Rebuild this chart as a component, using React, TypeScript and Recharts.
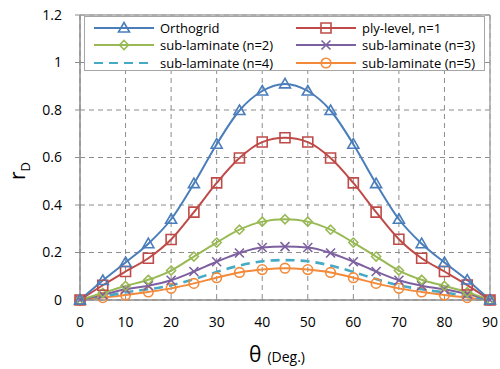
import React from 'react';
import { LineChart, Line, XAxis, YAxis, CartesianGrid, ReferenceLine, Legend } from 'recharts';

const theta = [0, 5, 10, 15, 20, 25, 30, 35, 40, 45, 50, 55, 60, 65, 70, 75, 80, 85, 90];
const orthogrid = [0, 0.082, 0.158, 0.237, 0.34, 0.49, 0.656, 0.798, 0.88, 0.91, 0.88, 0.798, 0.656, 0.49, 0.34, 0.237, 0.158, 0.084, 0];
const plyLevel = [0, 0.062, 0.12, 0.176, 0.255, 0.37, 0.493, 0.598, 0.665, 0.683, 0.665, 0.598, 0.493, 0.37, 0.256, 0.176, 0.12, 0.063, 0];
const sub2 = [0, 0.03, 0.059, 0.085, 0.124, 0.183, 0.242, 0.296, 0.33, 0.34, 0.33, 0.296, 0.242, 0.183, 0.124, 0.085, 0.059, 0.033, 0];
const sub3 = [0, 0.022, 0.045, 0.06, 0.083, 0.12, 0.161, 0.198, 0.221, 0.225, 0.221, 0.198, 0.161, 0.12, 0.083, 0.06, 0.045, 0.025, 0];
const sub4 = [0, 0.015, 0.032, 0.045, 0.062, 0.088, 0.118, 0.145, 0.163, 0.168, 0.163, 0.145, 0.118, 0.088, 0.062, 0.045, 0.032, 0.016, 0];
const sub5 = [0, 0.01, 0.021, 0.034, 0.049, 0.07, 0.094, 0.116, 0.128, 0.134, 0.128, 0.116, 0.094, 0.07, 0.049, 0.034, 0.021, 0.01, 0];

const seriesNames = ['Orthogrid', 'ply-level, n=1', 'sub-laminate (n=2)', 'sub-laminate (n=3)', 'sub-laminate (n=4)', 'sub-laminate (n=5)'];
const seriesKeys = ['orthogrid', 'plyLevel', 'sub2', 'sub3', 'sub4', 'sub5'];
const seriesValues = [orthogrid, plyLevel, sub2, sub3, sub4, sub5];
const seriesColors = ['#4A7EBB', '#BE4B48', '#98B954', '#7D60A0', '#46AAC5', '#F38A3A'];
const seriesMarkers = ['triangle', 'square', 'diamond', 'cross', 'none', 'circle'];

const xTicks = [0, 10, 20, 30, 40, 50, 60, 70, 80, 90];
const yTicks = [0, 0.2, 0.4, 0.6, 0.8, 1, 1.2];

const data = theta.map((t, i) => {
  const row: any = { theta: t };
  seriesKeys.forEach((k, j) => { row[k] = seriesValues[j][i]; });
  return row;
});

const FONT = '"Open Sans", sans-serif';

function markerPath(kind: string, cx: number, cy: number): string {
  switch (kind) {
    case 'triangle':
      return `M${cx},${cy - 5.5} L${cx + 5.5},${cy + 4} L${cx - 5.5},${cy + 4} Z`;
    case 'square':
      return `M${cx - 5},${cy - 5} H${cx + 5} V${cy + 5} H${cx - 5} Z`;
    case 'diamond':
      return `M${cx},${cy - 4.5} L${cx + 4.5},${cy} L${cx},${cy + 4.5} L${cx - 4.5},${cy} Z`;
    case 'cross':
      return `M${cx - 4.5},${cy - 4.5} L${cx + 4.5},${cy + 4.5} M${cx + 4.5},${cy - 4.5} L${cx - 4.5},${cy + 4.5}`;
    default:
      return '';
  }
}

function Marker({ kind, color, cx, cy }: { kind: string; color: string; cx: number; cy: number }) {
  if (kind === 'none') return <g />;
  if (kind === 'circle') {
    return <circle cx={cx} cy={cy} r={4.8} fill="none" stroke={color} strokeWidth={1.6} />;
  }
  return <path d={markerPath(kind, cx, cy)} fill="none" stroke={color} strokeWidth={1.6} />;
}

const makeDot = (kind: string, color: string) => (props: any) => {
  const { cx, cy, index } = props;
  if (cx == null || cy == null) return <g key={index} />;
  return <Marker key={index} kind={kind} color={color} cx={cx} cy={cy} />;
};

function LegendBox() {
  const rows = [[0, 1], [2, 3], [4, 5]];
  return (
    <div style={{ width: 401, height: 55, border: '1px solid #a6a6a6', background: '#fff', boxSizing: 'border-box', position: 'relative', fontFamily: FONT, fontSize: 13, color: '#000' }}>
      {rows.map((r, ri) =>
        r.map((si, ci) => (
          <div key={si} style={{ position: 'absolute', left: ci === 0 ? 9 : 211, top: 2 + ri * 17.5, height: 17, display: 'flex', alignItems: 'center', whiteSpace: 'nowrap' }}>
            <svg width={60} height={14} style={{ display: 'block' }}>
              <line x1={0} y1={7} x2={60} y2={7} stroke={seriesColors[si]} strokeWidth={2} strokeDasharray={si === 4 ? '9 6' : undefined} />
              <Marker kind={seriesMarkers[si]} color={seriesColors[si]} cx={30} cy={7} />
            </svg>
            <span style={{ marginLeft: 6 }}>{seriesNames[si]}</span>
          </div>
        ))
      )}
    </div>
  );
}

function XLabel(props: any) {
  const { viewBox } = props;
  const cx = viewBox.x + viewBox.width / 2;
  return (
    <text x={cx - 36} y={362} fontFamily={FONT} fill="#000">
      <tspan fontSize={21}>θ</tspan>
      <tspan fontSize={14} dx={6}>(Deg.)</tspan>
    </text>
  );
}

function YLabel() {
  return (
    <text transform="translate(25,180) rotate(-90)" fontFamily={FONT} fill="#000">
      <tspan fontSize={21}>r</tspan>
      <tspan fontSize={13} dy={5}>D</tspan>
    </text>
  );
}

export default function App() {
  return (
    <div style={{ position: 'absolute', left: 0, top: 0, width: 500, height: 369, background: '#fff' }}>
      <LineChart width={500} height={369} data={data} margin={{ top: 15, right: 10, bottom: 39, left: 20 }}>
        <CartesianGrid stroke="#8c8c8c" strokeDasharray="5 4" strokeWidth={1} />
        <XAxis
          dataKey="theta"
          type="number"
          domain={[0, 90]}
          ticks={xTicks}
          height={30}
          interval={0}
          tickLine={false}
          axisLine={{ stroke: '#8c8c8c', strokeWidth: 1.5 }}
          tick={{ fontFamily: FONT, fontSize: 14, fill: '#000' }}
          tickMargin={11}
          label={<XLabel />}
        />
        <YAxis
          type="number"
          domain={[0, 1.2]}
          ticks={yTicks}
          width={60}
          interval={0}
          tickSize={5}
          tickLine={{ stroke: '#8c8c8c' }}
          axisLine={{ stroke: '#8c8c8c', strokeWidth: 1.5 }}
          tick={{ fontFamily: FONT, fontSize: 14, fill: '#000' }}
          tickMargin={13}
          label={<YLabel />}
        />
        <ReferenceLine y={1.2} stroke="#a6a6a6" strokeWidth={1.5} />
        <ReferenceLine x={90} stroke="#a6a6a6" strokeWidth={1.5} />
        {[5, 4, 3, 2, 1, 0].map((si) => (
          <Line
            key={seriesKeys[si]}
            dataKey={seriesKeys[si]}
            name={seriesNames[si]}
            type="monotone"
            stroke={seriesColors[si]}
            strokeWidth={si === 4 ? 2.6 : 2}
            strokeDasharray={si === 4 ? '9 6' : undefined}
            dot={makeDot(seriesMarkers[si], seriesColors[si])}
            activeDot={false}
            isAnimationActive={false}
          />
        ))}
        <Legend
          layout="vertical"
          align="center"
          verticalAlign="middle"
          wrapperStyle={{ position: 'absolute', left: 84, top: 16, width: 401, height: 55 }}
          content={() => <LegendBox />}
        />
      </LineChart>
    </div>
  );
}
